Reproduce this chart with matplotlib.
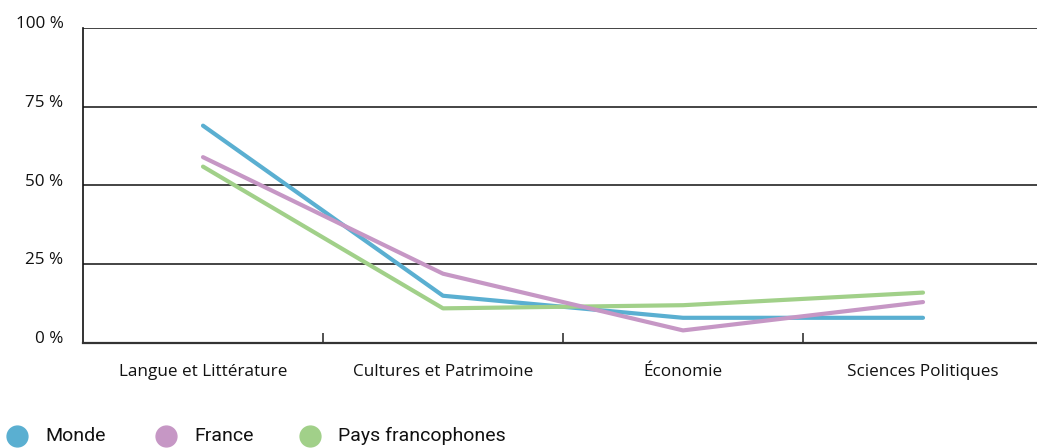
import matplotlib
matplotlib.use("Agg")
import matplotlib.pyplot as plt
from matplotlib.lines import Line2D

plt.rcParams["font.family"] = ["Open Sans", "DejaVu Sans"]

categories = ["Langue et Littérature", "Cultures et Patrimoine", "Économie", "Sciences Politiques"]
series_names = ["Monde", "France", "Pays francophones"]
monde = [69, 15, 8, 8]
france = [59, 22, 4, 13]
pays_francophones = [56, 11, 12, 16]
y_ticks = [0, 25, 50, 75, 100]
y_tick_labels = ["0 %", "25 %", "50 %", "75 %", "100 %"]

colors = {"Monde": "#5aafd1", "France": "#c697c5", "Pays francophones": "#a1d089"}

fig = plt.figure(figsize=(10.37, 4.48), dpi=100)
ax = fig.add_axes([83 / 1037, 105 / 448, 960 / 1037, 315 / 448])

x = list(range(len(categories)))
for name, vals in [("Monde", monde), ("Pays francophones", pays_francophones), ("France", france)]:
    ax.plot(x, vals, color=colors[name], lw=3.0, solid_capstyle="round", solid_joinstyle="round", zorder=3)

ax.set_xlim(-0.5, len(categories) - 0.5)
ax.set_ylim(0, 100)

# horizontal rules
for yv in y_ticks[1:]:
    ax.axhline(yv, color="#111111", lw=1.1, zorder=1)

for side in ["top", "right"]:
    ax.spines[side].set_visible(False)
ax.spines["left"].set_color("#111111")
ax.spines["left"].set_linewidth(1.2)
ax.spines["bottom"].set_color("#333333")
ax.spines["bottom"].set_linewidth(1.6)

ax.set_xticks(x)
ax.set_xticklabels(categories, fontsize=12.3, color="#111111")
ax.tick_params(axis="x", which="major", length=0, pad=15)
ax.set_xticks([i + 0.5 for i in x[:-1]], minor=True)
ax.tick_params(axis="x", which="minor", direction="in", length=7, width=1.2, color="#333333")

ax.set_yticks(y_ticks)
ax.set_yticklabels(y_tick_labels, fontsize=12.3, color="#111111")
ax.tick_params(axis="y", length=0, pad=14)
for lbl in ax.get_yticklabels():
    lbl.set_va("baseline")

# legend drawn along the bottom edge
legend_x = [17, 166, 310]
for name, lx in zip(series_names, legend_x):
    fig.add_artist(Line2D([lx / 1037], [12 / 448], transform=fig.transFigure,
                          marker="o", markersize=15, color=colors[name], linestyle="none"))
    fig.text((lx + 28) / 1037, 12 / 448, name, fontsize=14, va="center", ha="left",
             color="#111111", family=["Roboto", "DejaVu Sans"])

fig.savefig("out.png", dpi=100, facecolor="white")
